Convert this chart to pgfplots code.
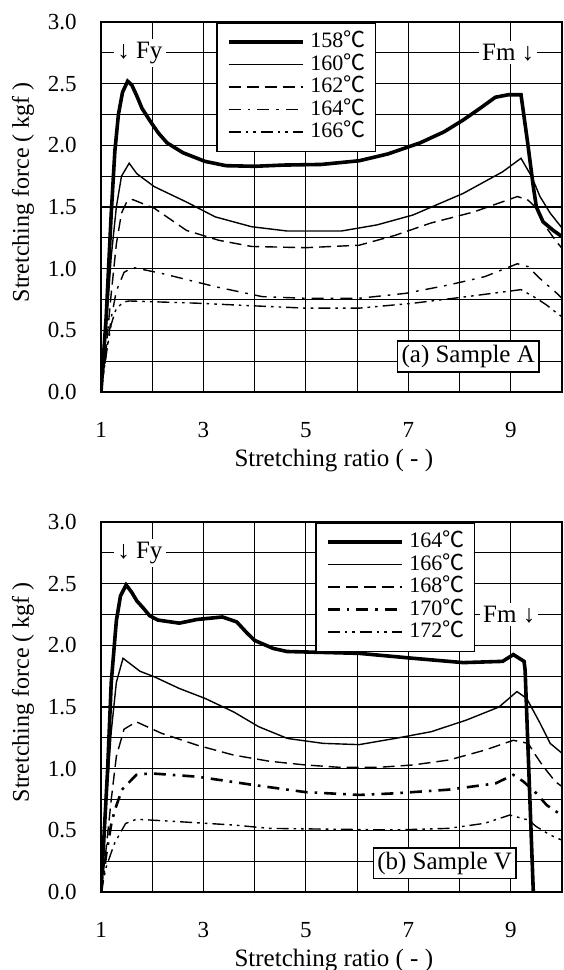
\documentclass[border=0pt]{standalone}
\usepackage{fontspec}
\setmainfont{Liberation Serif}
\newfontfamily\cjk{Noto Sans CJK SC}
\usepackage{pgfplots}
\pgfplotsset{compat=1.18}
\newcommand{\dc}{{\cjk ℃}}

\tikzset{
  note/.style={fill=white,inner sep=1.5pt,font=\fontsize{12.5}{14}\selectfont},
  sample/.style={draw=black,line width=0.8pt,fill=white,inner sep=2pt,
    font=\fontsize{12.5}{14}\selectfont},
}
\pgfplotsset{
  stretch/.style={
    scale only axis,width=230.5pt,height=185pt,
    xmin=1,xmax=10,ymin=0,ymax=3,
    xtick={1,3,5,7,9},minor xtick={2,4,6,8},
    ytick={0,0.5,1,1.5,2,2.5,3},minor ytick={0.25,0.75,1.25,1.75,2.25,2.75},
    grid=both,
    major grid style={draw=black,line width=0.6pt},
    minor grid style={draw=black,line width=0.6pt},
    axis line style={line width=1pt},
    major tick length=0pt,minor tick length=0pt,
    /pgf/number format/assume math mode=true,
    tick label style={font=\fontsize{11.5}{13}\selectfont},
    yticklabel style={/pgf/number format/fixed,/pgf/number format/fixed zerofill,
      /pgf/number format/precision=1,anchor=east,inner sep=0pt,xshift=-12pt},
    xticklabel style={anchor=center,yshift=-19pt},
    xlabel={Stretching ratio ( - )},ylabel={Stretching force ( kgf )},
    xlabel style={font=\fontsize{12.5}{14}\selectfont,
      at={(axis description cs:0.505,-0.184)},anchor=center},
    ylabel style={font=\fontsize{12}{14}\selectfont,
      at={(axis description cs:-0.169,0.54)},anchor=center},
    legend cell align=left,
    legend image code/.code={\draw[##1] (0pt,0pt) -- (37pt,0pt);},
    legend style={font=\fontsize{11}{12}\selectfont,draw=black,line width=0.8pt,
      fill=white,inner xsep=5pt,inner ysep=4pt,column sep=3pt,row sep=0pt,
      nodes={inner sep=0pt,text height=8.4pt,text depth=2.85pt}},
  },
  thickc/.style={black,line width=1.8pt},
  thinc/.style={black,line width=0.7pt},
  dashc/.style={black,line width=0.7pt,dash pattern=on 6pt off 3pt},
  ddotc/.style={black,line width=0.7pt,dash pattern=on 6pt off 3.5pt on 1.3pt off 3.5pt},
  dddotc/.style={black,line width=0.7pt,dash pattern=on 6pt off 2.5pt on 1.3pt off 2.5pt on 1.3pt off 2.5pt},
}

\begin{document}
\begin{tikzpicture}
\path[use as bounding box] (0,0) rectangle (281.5pt,485pt);

% (a) Sample A
\begin{axis}[stretch,at={(50.5pt,289pt)},anchor=south west,
  legend style={at={(axis description cs:0.2495,1)},anchor=north west}]
\addplot[thickc] coordinates {(1,0) (1.1,0.6) (1.2,1.45) (1.27,1.95) (1.34,2.25) (1.42,2.43)
  (1.52,2.52) (1.6,2.49) (1.7,2.4) (1.8,2.3) (1.97,2.19) (2.12,2.1) (2.29,2.02) (2.6,1.94)
  (3.03,1.87) (3.44,1.835) (4.0,1.83) (4.57,1.84) (5.3,1.845) (6.04,1.875) (6.6,1.93)
  (7.23,2.02) (7.7,2.11) (8.07,2.205) (8.4,2.3) (8.7,2.39) (8.95,2.41) (9.2,2.41)
  (9.33,2.02) (9.44,1.665) (9.5,1.5) (9.63,1.38) (9.83,1.31) (10,1.26)};
\addlegendentry{158\dc}
\addplot[thinc] coordinates {(1,0) (1.1,0.5) (1.2,1.1) (1.3,1.5) (1.4,1.75) (1.55,1.855)
  (1.7,1.77) (2.04,1.665) (2.67,1.54) (3.23,1.42) (3.94,1.34) (4.64,1.305) (5.69,1.305)
  (6.39,1.355) (7.09,1.435) (8.07,1.61) (8.84,1.785) (9.2,1.895) (9.41,1.745)
  (9.57,1.585) (9.77,1.45) (10,1.33)};
\addlegendentry{160\dc}
\addplot[dashc] coordinates {(1,0) (1.1,0.35) (1.2,0.8) (1.3,1.2) (1.4,1.45) (1.5,1.54)
  (1.62,1.56) (2.04,1.49) (2.67,1.31) (3.3,1.23) (3.94,1.18) (4.99,1.17) (6.04,1.19)
  (6.74,1.27) (7.44,1.37) (8.28,1.46) (9.13,1.585) (9.34,1.555) (9.5,1.49) (9.7,1.33)
  (9.87,1.23) (10,1.165)};
\addlegendentry{162\dc}
\addplot[ddotc] coordinates {(1,0) (1.1,0.3) (1.2,0.6) (1.3,0.82) (1.45,0.97) (1.62,1.01)
  (2.18,0.962) (3.23,0.854) (4.15,0.773) (4.98,0.76) (6.04,0.76) (6.95,0.80) (7.79,0.868)
  (8.49,0.935) (9.13,1.04) (9.34,1.016) (9.57,0.92) (9.9,0.80) (10,0.76)};
\addlegendentry{164\dc}
\addplot[dddotc] coordinates {(1,0) (1.1,0.3) (1.2,0.55) (1.3,0.68) (1.45,0.73) (1.55,0.738)
  (2.88,0.72) (3.9,0.70) (4.99,0.68) (6.04,0.68) (7.1,0.72) (8.14,0.773) (9.2,0.83)
  (9.5,0.76) (9.7,0.705) (9.9,0.64) (10,0.61)};
\addlegendentry{166\dc}
\node[note] at (axis cs:1.76,2.75) {↓ Fy};
\node[note] at (axis cs:8.95,2.75) {Fm ↓};
\node[sample] at (axis cs:8.17,0.288) {(a) Sample A};
\end{axis}

% (b) Sample V
\begin{axis}[stretch,at={(50.5pt,39pt)},anchor=south west,
  legend style={at={(axis description cs:0.464,1)},anchor=north west}]
\addplot[thickc] coordinates {(1,0) (1.13,1.0) (1.2,1.7) (1.3,2.2) (1.38,2.4) (1.49,2.49)
  (1.6,2.43) (1.7,2.36) (1.83,2.30) (1.95,2.24) (2.11,2.205) (2.53,2.18) (2.88,2.21)
  (3.37,2.23) (3.65,2.19) (3.85,2.1) (4.0,2.04) (4.36,1.975) (4.63,1.95) (6.04,1.935)
  (7.09,1.895) (8.07,1.86) (8.84,1.87) (9.05,1.925) (9.26,1.87) (9.28,1.8) (9.44,0)};
\addlegendentry{164\dc}
\addplot[thinc] coordinates {(1,0) (1.1,0.7) (1.2,1.3) (1.3,1.7) (1.43,1.895) (1.76,1.79)
  (2.04,1.745) (2.53,1.65) (3.03,1.57) (3.59,1.46) (4.08,1.34) (4.64,1.245) (5.34,1.205)
  (6.04,1.195) (6.74,1.245) (7.45,1.30) (8.14,1.395) (8.77,1.50) (9.12,1.625) (9.31,1.57)
  (9.57,1.37) (9.77,1.205) (10,1.125)};
\addlegendentry{166\dc}
\addplot[dashc] coordinates {(1,0) (1.1,0.35) (1.2,0.75) (1.3,1.1) (1.45,1.32) (1.69,1.38)
  (2.18,1.287) (2.88,1.19) (3.59,1.11) (4.29,1.06) (4.99,1.03) (5.69,1.01) (6.39,1.01)
  (7.09,1.03) (7.79,1.07) (8.49,1.15) (9.05,1.23) (9.34,1.205) (9.5,1.10) (9.63,1.02)
  (9.87,0.895) (10,0.855)};
\addlegendentry{168\dc}
\addplot[ddotc,line width=1.3pt] coordinates {(1,0) (1.1,0.3) (1.2,0.55) (1.27,0.665)
  (1.41,0.83) (1.69,0.95) (1.97,0.962) (2.88,0.935) (3.94,0.87) (4.99,0.81) (6.04,0.787)
  (6.74,0.80) (7.79,0.83) (8.7,0.88) (9.05,0.95) (9.25,0.895) (9.5,0.80) (9.7,0.705)
  (9.93,0.64) (10,0.62)};
\addlegendentry{170\dc}
\addplot[dddotc] coordinates {(1,0) (1.1,0.2) (1.2,0.32) (1.27,0.4) (1.48,0.555) (1.69,0.59)
  (2.53,0.57) (3.59,0.543) (4.29,0.516) (5.34,0.51) (6.74,0.503) (7.79,0.516) (8.49,0.557)
  (8.98,0.624) (9.34,0.584) (9.5,0.53) (9.77,0.462) (10,0.42)};
\addlegendentry{172\dc}
\node[note] at (axis cs:1.76,2.75) {↓ Fy};
\node[note] at (axis cs:8.97,2.25) {Fm ↓};
\node[sample] at (axis cs:7.71,0.233) {(b) Sample V};
\end{axis}
\end{tikzpicture}
\end{document}
